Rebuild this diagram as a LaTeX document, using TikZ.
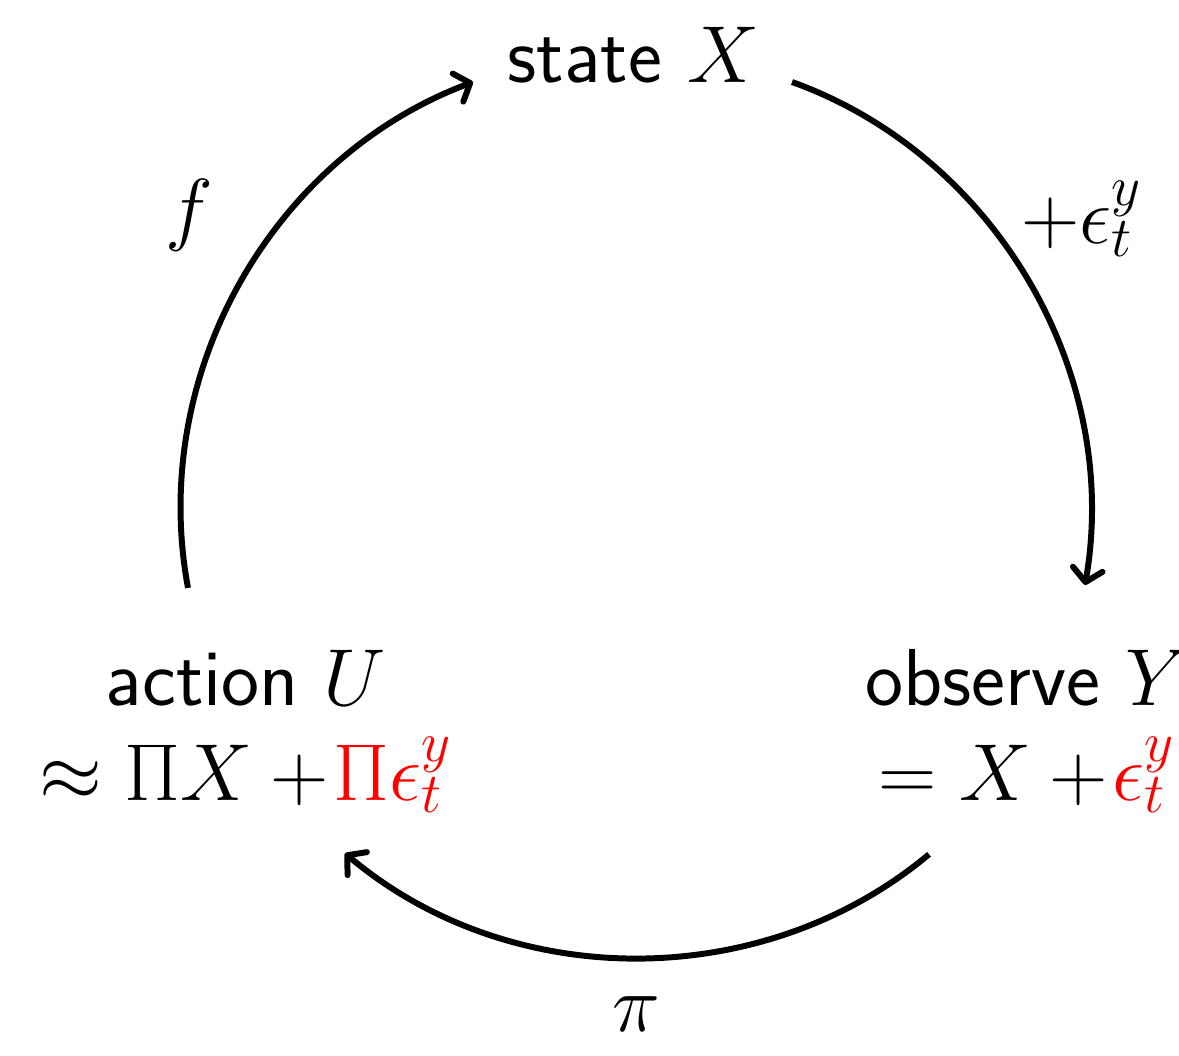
\documentclass[tikz,border=0pt]{standalone}
\usepackage{fix-cm}
\usepackage{fontspec}
\usetikzlibrary{arrows.meta, positioning}
\renewcommand{\familydefault}{\sfdefault}

\begin{document}
\begin{tikzpicture}[
  lbl/.style={font=\sffamily\fontsize{23}{26.8}\selectfont, align=center, inner sep=0pt},
  elbl/.style={font=\fontsize{23}{27.5}\selectfont},
  arrow/.style={-{Straight Barb[length=1.3mm, width=3mm, round]}, line width=1.7pt,
                bend left=40, looseness=0.95}
]
\useasboundingbox (0,0) rectangle (11.79,10.55);

\node[lbl, anchor=base] (state) at (6.335, 9.73) {state $X$};
\node[lbl, anchor=base] (obs) at (10.27, 2.55)
  {observe $Y$\\ $= X +\!\textcolor{red}{\epsilon_t^y}$};
\node[lbl, anchor=base] (action) at (2.46, 2.55)
  {action $U$\\ $\approx \Pi X +\!\textcolor{red}{\Pi\epsilon_t^y}$};

\draw[arrow] ([shift={(-0.58,0.62)}]action.north) to
  node[elbl, above left=0.18 and 0.12] (f) {$f$} ([xshift=-3.4mm]state.base west);
\draw[arrow] ([xshift=3.2mm]state.base east) to
  node[elbl, above right=0.10 and -0.22] (noise) {$+\epsilon_t^y$} ([shift={(0.58,0.64)}]obs.north);
\draw[arrow] ([shift={(-0.98,-0.41)}]obs.south) to
  node[elbl, below=0.24] (pi) {$\pi$} ([shift={(0.99,-0.40)}]action.south);

\end{tikzpicture}
\end{document}
